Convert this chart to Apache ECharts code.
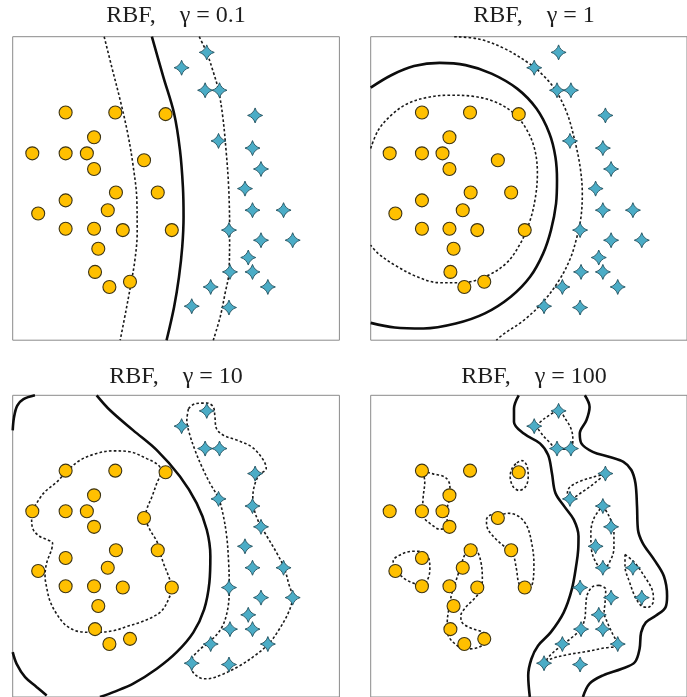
<!DOCTYPE html>
<html>
<head>
<meta charset="utf-8">
<script src="https://cdn.jsdelivr.net/npm/echarts@6/dist/echarts.min.js"></script>
<style>
  html, body { margin: 0; padding: 0; background: #ffffff; }
  #chart { width: 687px; height: 697px; }
</style>
</head>
<body>
<div id="chart"></div>
<script>
// Kernel widths shown in the four panels
const gammaLabels = ['0.1', '1', '10', '100'];

// Training samples (same set in every panel)
const classCircle = [
  [1.62, 6.97], [3.14, 6.97], [4.68, 6.92], [2.49, 6.21], [0.60, 5.72], [1.62, 5.72],
  [2.27, 5.72], [4.02, 5.51], [2.49, 5.24], [3.16, 4.52], [4.44, 4.52], [1.62, 4.28],
  [2.91, 3.98], [0.78, 3.88], [1.62, 3.41], [2.49, 3.41], [3.37, 3.37], [4.87, 3.37],
  [2.62, 2.80], [2.52, 2.09], [3.59, 1.79], [2.96, 1.63]
];
const classStar = [
  [5.94, 8.81], [5.17, 8.34], [5.89, 7.65], [6.33, 7.65], [7.42, 6.88], [6.30, 6.10],
  [7.34, 5.88], [7.60, 5.24], [7.11, 4.64], [7.34, 3.98], [8.29, 3.98], [6.62, 3.37],
  [7.60, 3.06], [8.57, 3.06], [7.21, 2.53], [7.34, 2.09], [6.65, 2.09], [7.81, 1.63],
  [6.06, 1.63], [5.48, 1.04], [6.62, 1.00]
];

// gamma = 0.1 : decision boundary (f = 0) and margins (f = -1, f = +1)
const g01Boundary = [[4.26, 9.29], [4.61, 8.06], [4.94, 6.94], [5.12, 5.82], [5.21, 4.69], [5.23, 3.78], [5.19, 2.86], [5.09, 1.94], [4.94, 1.02], [4.71, 0]];
const g01MarginNeg = [[2.80, 9.29], [3.03, 8.37], [3.29, 7.35], [3.52, 6.33], [3.69, 5.31], [3.80, 4.29], [3.81, 3.27], [3.74, 2.45], [3.62, 1.73], [3.47, 0.92], [3.29, 0]];
const g01MarginPos = [[5.71, 9.29], [5.94, 8.80], [6.14, 8.21], [6.30, 7.65], [6.43, 6.84], [6.53, 5.82], [6.61, 4.69], [6.64, 3.37], [6.62, 2.09], [6.50, 1.43], [6.35, 0.71], [6.14, 0]];

// gamma = 1
const g1Boundary = [[0, 7.73], [0.65, 8.11], [1.37, 8.39], [2.18, 8.49], [3.00, 8.42], [3.82, 8.16], [4.63, 7.70], [5.24, 7.09], [5.65, 6.33], [5.84, 5.61], [5.89, 4.90], [5.86, 4.18], [5.70, 3.37], [5.45, 2.65], [5.04, 1.94], [4.43, 1.33], [3.61, 0.82], [2.69, 0.51], [1.67, 0.36], [0.76, 0.39], [0, 0.53]];
const g1MarginNeg = [[0, 5.87], [0.24, 6.43], [0.65, 6.89], [1.16, 7.24], [1.78, 7.43], [2.49, 7.50], [3.20, 7.47], [3.92, 7.30], [4.53, 6.94], [4.94, 6.43], [5.19, 5.82], [5.27, 5.10], [5.21, 4.39], [5.04, 3.67], [4.73, 2.96], [4.28, 2.35], [3.61, 1.94], [2.90, 1.76], [2.18, 1.76], [1.47, 1.94], [0.76, 2.30], [0.24, 2.65], [0, 2.91]];
const g1MarginPos = [[2.64, 9.29], [3.41, 9.22], [4.22, 8.93], [5.04, 8.45], [5.50, 8.06], [5.86, 7.63], [6.21, 6.94], [6.45, 6.12], [6.62, 5.31], [6.69, 4.49], [6.65, 3.78], [6.52, 3.16], [6.31, 2.50], [5.96, 1.84], [5.45, 1.17], [4.84, 0.61], [4.22, 0.20], [3.97, 0]];

// gamma = 10
const g10Boundary = [[2.57, 9.29], [2.98, 8.83], [3.69, 8.21], [4.41, 7.60], [5.12, 6.79], [5.63, 5.97], [5.94, 5.15], [6.05, 4.34], [6.02, 3.52], [5.86, 2.70], [5.53, 1.99], [5.02, 1.38], [4.41, 0.87], [3.69, 0.41], [3.08, 0.15], [2.67, 0]];
const g10BoundaryTopCorner = [[0, 8.21], [0.04, 8.61], [0.14, 8.97], [0.33, 9.17], [0.68, 9.29]];
const g10BoundaryLowCorner = [[0, 1.38], [0.12, 1.02], [0.38, 0.61], [0.73, 0.31], [1.04, 0.05]];
const g10MarginNeg = [[0.60, 5.73], [0.94, 6.27], [1.35, 6.62], [1.65, 6.94], [2.06, 7.29], [2.57, 7.50], [3.08, 7.58], [3.59, 7.55], [4.10, 7.34], [4.46, 7.14], [4.54, 6.93], [4.41, 6.58], [4.26, 6.16], [4.10, 5.77], [4.07, 5.51], [4.20, 5.15], [4.41, 4.80], [4.49, 4.52], [4.61, 4.13], [4.77, 3.72], [4.87, 3.37], [4.77, 3.01], [4.56, 2.65], [4.26, 2.45], [3.90, 2.30], [3.49, 2.17], [3.08, 2.04], [2.52, 1.99], [2.06, 2.01], [1.65, 2.19], [1.35, 2.55], [1.14, 2.96], [1.04, 3.37], [0.99, 3.72], [1.04, 4.13], [1.19, 4.54], [1.22, 4.74], [1.04, 4.85], [0.82, 4.95], [0.63, 5.15], [0.58, 5.46], [0.60, 5.73]];
const g10MarginPos = [[5.38, 8.88], [5.58, 9.03], [5.94, 9.05], [6.14, 8.93], [6.19, 8.62], [6.24, 8.26], [6.45, 8.06], [6.86, 7.91], [7.32, 7.70], [7.67, 7.30], [7.76, 7.04], [7.55, 6.84], [7.42, 6.58], [7.35, 6.17], [7.37, 5.87], [7.52, 5.41], [7.78, 4.95], [8.08, 4.44], [8.31, 3.98], [8.44, 3.52], [8.56, 3.06], [8.44, 2.60], [8.13, 2.04], [7.83, 1.63], [7.42, 1.28], [6.96, 0.97], [6.45, 0.71], [5.94, 0.56], [5.69, 0.61], [5.48, 0.87], [5.48, 1.12], [5.69, 1.43], [6.06, 1.73], [6.40, 2.14], [6.58, 2.70], [6.63, 3.37], [6.61, 4.13], [6.55, 4.95], [6.43, 5.66], [6.30, 6.12], [6.04, 6.58], [5.79, 7.09], [5.58, 7.60], [5.41, 8.11], [5.33, 8.52], [5.38, 8.88]];

// gamma = 100 : two boundary branches and many small margin islands
const g100BoundaryLeft = [[4.68, 9.29], [4.53, 8.88], [4.53, 8.47], [4.84, 8.11], [5.35, 7.81], [5.61, 7.45], [5.73, 6.89], [5.84, 6.28], [6.12, 5.87], [6.42, 5.46], [6.57, 4.95], [6.56, 4.54], [6.51, 4.13], [6.36, 3.32], [6.10, 2.60], [5.69, 1.99], [5.29, 1.58], [5.08, 1.17], [4.98, 0.66], [5.03, 0]];
const g100BoundaryRight = [[6.77, 9.29], [6.92, 8.93], [6.82, 8.52], [6.61, 8.11], [6.66, 7.81], [7.02, 7.55], [7.53, 7.40], [7.99, 7.24], [8.24, 6.99], [8.37, 6.58], [8.42, 5.87], [8.45, 5.15], [8.60, 4.74], [8.96, 4.23], [9.27, 3.72], [9.37, 3.11], [9.32, 2.76], [9.01, 2.50], [8.70, 2.30], [8.55, 1.99], [8.50, 1.48], [8.35, 1.07], [7.94, 0.87], [7.33, 0.66], [6.92, 0.41], [6.71, 0]];
const g100IslandsNeg = [
  [[1.64, 6.96], [1.97, 6.87], [2.35, 6.77], [2.50, 6.53], [2.51, 6.20], [2.43, 5.87], [2.41, 5.51], [2.48, 5.23], [2.17, 5.17], [1.92, 5.31], [1.69, 5.51], [1.64, 5.73], [1.66, 6.17], [1.71, 6.63], [1.64, 6.96]],
  [[4.62, 7.21], [4.78, 7.28], [4.93, 7.14], [4.98, 6.79], [4.90, 6.48], [4.69, 6.36], [4.50, 6.48], [4.41, 6.79], [4.47, 7.04], [4.62, 7.21]],
  [[4.05, 5.56], [4.33, 5.66], [4.68, 5.56], [4.94, 5.26], [5.09, 4.74], [5.16, 4.13], [5.14, 3.62], [5.02, 3.34], [4.84, 3.32], [4.68, 3.52], [4.61, 3.93], [4.48, 4.44], [4.22, 4.64], [3.92, 4.90], [3.69, 5.20], [3.66, 5.46], [3.82, 5.61], [4.05, 5.56]],
  [[0.80, 3.85], [0.71, 4.18], [1.00, 4.41], [1.36, 4.49], [1.66, 4.46], [1.85, 4.23], [1.87, 3.93], [1.80, 3.62], [1.63, 3.42], [1.36, 3.50], [1.10, 3.62], [0.90, 3.78], [0.80, 3.85]],
  [[3.15, 4.59], [3.36, 4.49], [3.49, 4.13], [3.53, 3.62], [3.46, 3.27], [3.26, 3.01], [3.00, 2.76], [2.85, 2.50], [2.90, 2.28], [3.20, 2.11], [3.56, 1.99], [3.73, 1.84], [3.61, 1.65], [3.31, 1.50], [2.98, 1.48], [2.67, 1.63], [2.44, 1.94], [2.42, 2.30], [2.49, 2.81], [2.57, 3.21], [2.71, 3.62], [2.85, 4.03], [2.98, 4.39], [3.15, 4.59]]
];
const g100IslandsPos = [
  [[5.23, 8.34], [5.49, 8.57], [5.95, 8.81], [6.15, 8.57], [6.33, 8.27], [6.39, 7.96], [6.34, 7.63], [6.11, 7.63], [5.90, 7.63], [5.64, 7.86], [5.44, 8.06], [5.23, 8.34]],
  [[7.43, 6.87], [7.02, 6.77], [6.59, 6.63], [6.29, 6.46], [6.22, 6.28], [6.30, 6.10], [6.71, 6.33], [7.07, 6.58], [7.43, 6.87]],
  [[7.34, 5.89], [7.54, 5.56], [7.69, 5.10], [7.69, 4.59], [7.54, 4.13], [7.34, 3.93], [7.13, 4.13], [6.98, 4.54], [6.96, 5.05], [7.06, 5.51], [7.34, 5.89]],
  [[8.04, 4.39], [8.35, 4.13], [8.65, 3.72], [8.91, 3.27], [8.94, 2.96], [8.76, 2.76], [8.55, 2.81], [8.35, 3.11], [8.19, 3.52], [8.04, 4.03], [8.04, 4.39]],
  [[7.22, 3.44], [7.43, 3.32], [7.41, 2.91], [7.38, 2.60], [7.48, 2.30], [7.65, 1.94], [7.82, 1.61], [7.33, 1.50], [6.82, 1.40], [6.20, 1.30], [5.69, 1.17], [5.47, 1.02], [5.69, 1.30], [6.07, 1.61], [6.41, 1.87], [6.64, 2.09], [6.77, 2.42], [6.80, 2.81], [6.85, 3.16], [7.02, 3.40], [7.22, 3.44]]
];

// Which curves belong to which panel
const panelBoundaries = [
  [g01Boundary],
  [g1Boundary],
  [g10Boundary, g10BoundaryTopCorner, g10BoundaryLowCorner],
  [g100BoundaryLeft, g100BoundaryRight]
];
const panelMargins = [
  [g01MarginNeg, g01MarginPos],
  [g1MarginNeg, g1MarginPos],
  [g10MarginNeg, g10MarginPos],
  g100IslandsNeg.concat(g100IslandsPos)
];

// Panel rectangles in pixels
const panelBoxes = [
  { left: 12.7, top: 36.7 },
  { left: 370.7, top: 36.7 },
  { left: 12.7, top: 395.3 },
  { left: 370.7, top: 395.3 }
];
const BOX_W = 326.7, BOX_H = 303.5;
const X_MAX = 10, Y_MAX = 9.29;
const titleY = [16, 16, 377, 377];

// Four-pointed star marker with slightly concave sides
const STAR = 'path://M0,-10 Q2.3,-2.3 10,0 Q2.3,2.3 0,10 Q-2.3,2.3 -10,0 Q-2.3,-2.3 0,-10 Z';

const grid = [], xAxis = [], yAxis = [], series = [], graphic = [];
panelBoxes.forEach((b, i) => {
  grid.push({
    left: b.left, top: b.top, width: BOX_W, height: BOX_H,
    show: true, borderColor: '#8a8a8a', borderWidth: 1, backgroundColor: 'transparent'
  });
  const hidden = { show: false };
  xAxis.push({ type: 'value', gridIndex: i, min: 0, max: X_MAX, axisLine: hidden, axisTick: hidden, axisLabel: hidden, splitLine: hidden });
  yAxis.push({ type: 'value', gridIndex: i, min: 0, max: Y_MAX, axisLine: hidden, axisTick: hidden, axisLabel: hidden, splitLine: hidden });

  panelBoundaries[i].forEach(curve => {
    series.push({
      type: 'line', xAxisIndex: i, yAxisIndex: i, data: curve, smooth: 0.35,
      symbol: 'none', silent: true, z: 2,
      lineStyle: { color: '#0d0d0d', width: 2.6 }
    });
  });
  panelMargins[i].forEach(curve => {
    series.push({
      type: 'line', xAxisIndex: i, yAxisIndex: i, data: curve, smooth: 0.35,
      symbol: 'none', silent: true, z: 2,
      lineStyle: { color: '#1a1a1a', width: 1.6, type: [2.6, 2.2] }
    });
  });
  series.push({
    type: 'scatter', xAxisIndex: i, yAxisIndex: i, data: classCircle,
    symbol: 'circle', symbolSize: 13, z: 3, silent: true,
    itemStyle: { color: '#FFC000', borderColor: '#3d3414', borderWidth: 1.1, opacity: 1 }
  });
  series.push({
    type: 'scatter', xAxisIndex: i, yAxisIndex: i, data: classStar,
    symbol: STAR, symbolSize: 15, z: 3, silent: true,
    itemStyle: { color: '#4BACC6', borderColor: '#23505e', borderWidth: 0.9, opacity: 1 }
  });

  graphic.push({
    type: 'text', x: b.left + BOX_W / 2, y: titleY[i], silent: true,
    style: {
      text: 'RBF,\u2003\u03B3 = ' + gammaLabels[i],
      font: '24px "Liberation Serif", serif',
      fill: '#1e1e1e', align: 'center', verticalAlign: 'middle'
    }
  });
});

const chart = echarts.init(document.getElementById('chart'), null, { renderer: 'canvas' });
chart.setOption({
  animation: false,
  backgroundColor: '#ffffff',
  grid, xAxis, yAxis, series, graphic
});
</script>
</body>
</html>
